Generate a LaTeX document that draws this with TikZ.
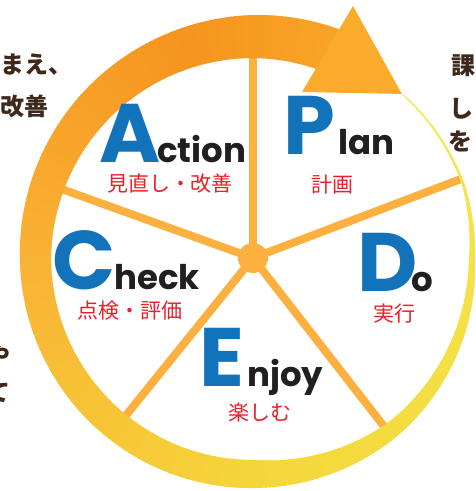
\documentclass[tikz,border=0pt]{standalone}
\usepackage{fontspec}
\newfontfamily\capfont{Poppins}
\newfontfamily\jpfont{Noto Sans CJK JP}
\definecolor{capblue}{RGB}{18,115,187}
\definecolor{lowblack}{RGB}{35,31,32}
\definecolor{labred}{RGB}{232,32,42}
\definecolor{txtbrown}{RGB}{62,40,28}
\definecolor{spokec}{RGB}{251,176,64}
\definecolor{ringA}{RGB}{242,234,80}
\definecolor{ringB}{RGB}{245,214,58}
\definecolor{ringC}{RGB}{249,178,52}
\definecolor{ringD}{RGB}{246,148,30}
\definecolor{ringE}{RGB}{249,168,40}
\definecolor{arrowc}{RGB}{249,171,43}
\newcommand{\ringradii}[1]{%
  \pgfmathsetmacro{\myri}{(#1)<28 ? 220.5-0.5*(#1)/28 : ((#1)<48 ? 220-6*((#1)-28)/20 : ((#1)<98 ? 214-3*((#1)-48)/50 : ((#1)<138 ? 211-10*((#1)-98)/40 : ((#1)<228 ? 201+3*((#1)-138)/90 : ((#1)<318 ? 204-3*((#1)-228)/90 : 201-2*((#1)-318)/28)))))}%
  \pgfmathsetmacro{\myro}{(#1)<28 ? 221.5+1*(#1)/28 : ((#1)<48 ? 222.5-2.5*((#1)-28)/20 : ((#1)<98 ? 220+7*((#1)-48)/50 : ((#1)<138 ? 227+2*((#1)-98)/40 : ((#1)<228 ? 229+6*((#1)-138)/90 : ((#1)<318 ? 235+9*((#1)-228)/90 : 244+1*((#1)-318)/28)))))}%
}
\begin{document}
\begin{tikzpicture}[x=1pt,y=1pt,
  bigcap/.style={font=\capfont\bfseries\fontsize{83}{83}\selectfont, text=capblue, inner sep=0pt, anchor=base west},
  lowtxt/.style={font=\capfont\bfseries\fontsize{34}{34}\selectfont, text=lowblack, inner sep=0pt, anchor=base west},
  labtxt/.style={font=\jpfont\fontsize{21}{21}\selectfont, text=labred, inner sep=0pt},
  sidetxt/.style={font=\jpfont\bfseries\fontsize{24}{24}\selectfont, text=txtbrown, inner sep=0pt},
  spokeline/.style={draw=spokec, line width=8pt}]
\useasboundingbox (0,0) rectangle (475,491);
\fill[white] (0,0) rectangle (475,491);
\clip (0,0) rectangle (475,491);
% spokes and hub
\node[circle, fill=spokec, minimum size=30pt, inner sep=0pt] (hub) at (253,233) {};
\coordinate (sT) at (253,440);
\coordinate (sR) at (461,312);
\coordinate (sLR) at (386,62);
\coordinate (sLL) at (119,67);
\coordinate (sL) at (56,304);
\foreach \e in {sT,sR,sLR,sLL,sL} \draw[spokeline] (hub.center) -- (\e);
% ring
\foreach \k in {0,...,345}{%
  \pgfmathsetmacro{\ua}{\k}%
  \pgfmathsetmacro{\ub}{min(\k+1.6,346)}%
  \ringradii{\ua}\let\ria\myri\let\roa\myro
  \ringradii{\ub}\let\rib\myri\let\rob\myro
  \pgfmathsetmacro{\ta}{48-\ua}%
  \pgfmathsetmacro{\tb}{48-\ub}%
  \ifnum\k<138
    \pgfmathsetmacro{\pp}{100*(138-\k)/138}\colorlet{segc}{ringA!\pp!ringB}%
  \else\ifnum\k<228
    \pgfmathsetmacro{\pp}{100*(228-\k)/90}\colorlet{segc}{ringB!\pp!ringC}%
  \else\ifnum\k<300
    \pgfmathsetmacro{\pp}{100*(300-\k)/72}\colorlet{segc}{ringC!\pp!ringD}%
  \else
    \pgfmathsetmacro{\pp}{100*(346-\k)/46}\colorlet{segc}{ringD!\pp!ringE}%
  \fi\fi\fi
  \fill[segc, shift={(255,232)}] (\ta:\ria) -- (\ta:\roa) -- (\tb:\rob) -- (\tb:\rib) -- cycle;
}
% arrow head
\coordinate (tipA) at (353,485);
\coordinate (tipB) at (302,399);
\coordinate (tipC) at (402,397);
\fill[arrowc] (tipA) -- (tipB) -- (tipC) -- cycle;
% PDCAE letters
\node[bigcap] (capA) at (99,328) {A};
\node[lowtxt] (lowA) at (157,328) {ction};
\node[labtxt] (labA) at (170,307) {見直し・改善};
\node[bigcap] (capP) at (283,336) {P};
\node[lowtxt] (lowP) at (338,336) {lan};
\node[labtxt] (labP) at (332,306) {計画};
\node[bigcap] (capD) at (357,199) {D};
\node[lowtxt] (lowD) at (411,199) {o};
\node[labtxt] (labD) at (394,177) {実行};
\node[bigcap] (capC) at (52,201) {C};
\node[lowtxt] (lowC) at (114,201) {heck};
\node[labtxt] (labC) at (130,180) {点検・評価};
\node[bigcap] (capE) at (199,104) {E};
\node[lowtxt] (lowE) at (247,104) {njoy};
\node[labtxt] (labE) at (260,79) {楽しむ};
% side texts (cut by the frame)
\node[sidetxt, anchor=west] (sideA) at (0,426) {まえ、};
\node[sidetxt, anchor=west] (sideB) at (0,385) {改善};
\node[sidetxt] (sideC) at (463,425) {課};
\node[sidetxt] (sideD) at (461,382) {し};
\node[sidetxt] (sideE) at (460,350) {を};
\node[sidetxt] (sideF) at (-1,136) {や};
\node[sidetxt] (sideG) at (-1,98) {て};
\end{tikzpicture}
\end{document}
